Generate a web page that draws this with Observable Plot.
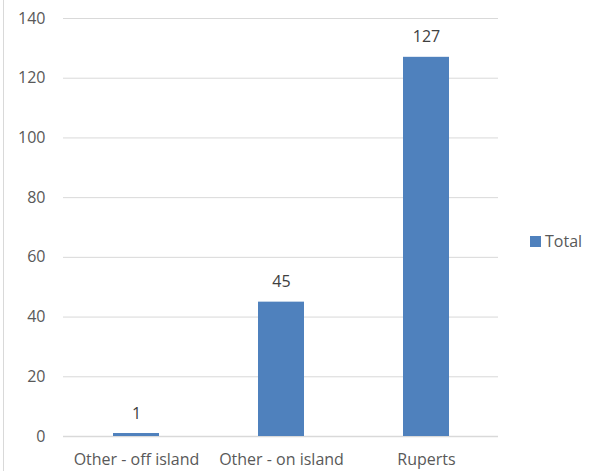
<!DOCTYPE html>
<html>
<head>
<meta charset="utf-8">
<script src="https://cdn.jsdelivr.net/npm/d3@7"></script>
<script src="https://cdn.jsdelivr.net/npm/@observablehq/plot@0.6"></script>
<style>
  html, body { margin: 0; padding: 0; background: #fff; }
  #wrap { position: relative; width: 594px; height: 471px; overflow: hidden; }
  #border { position: absolute; left: 3px; top: 0; width: 0; height: 471px; border-left: 1px solid #d9d9d9; }
  #legend { position: absolute; left: 530px; top: 230px; display: flex; align-items: center;
    font-family: "Open Sans", sans-serif; font-size: 16px; color: #595959; line-height: 22px; }
  #legend .sw { width: 11px; height: 11px; background: #4F81BD; margin-right: 4px; }
</style>
</head>
<body>
<div id="wrap">
  <div id="chart"></div>
  <div id="border"></div>
  <div id="legend"><div class="sw"></div><span>Total</span></div>
</div>
<script>
const categories = ["Other - off island", "Other - on island", "Ruperts"];
const totals = [1, 45, 127];
const yTicks = [0, 20, 40, 60, 80, 100, 120, 140];
const seriesName = "Total";

const data = categories.map((c, i) => ({category: c, value: totals[i]}));
const font = "Open Sans, sans-serif";

const chart = Plot.plot({
  width: 594,
  height: 471,
  marginLeft: 63,
  marginRight: 96,
  marginTop: 18,
  marginBottom: 35,
  style: {fontFamily: font, fontSize: "16px", color: "#595959", background: "transparent"},
  x: {domain: categories, paddingInner: 0.683, paddingOuter: 0.3415, label: null, tickSize: 0, tickPadding: 17, align: 0.5},
  y: {domain: [0, 140], ticks: yTicks, label: null, tickSize: 0, tickPadding: 18, tickFormat: d3.format("d")},
  marks: [
    Plot.gridY(yTicks, {stroke: "#d9d9d9", strokeOpacity: 1, strokeWidth: 1}),
    Plot.ruleY([0], {stroke: "#d9d9d9", strokeWidth: 1.5}),
    Plot.barY(data, {x: "category", y: "value", fill: "#4F81BD"}),
    Plot.text(data, {x: "category", y: "value", text: d => String(d.value), lineAnchor: "bottom", dy: -15, fill: "#404040", fontSize: 16})
  ]
});
document.getElementById("chart").appendChild(chart);
</script>
</body>
</html>
